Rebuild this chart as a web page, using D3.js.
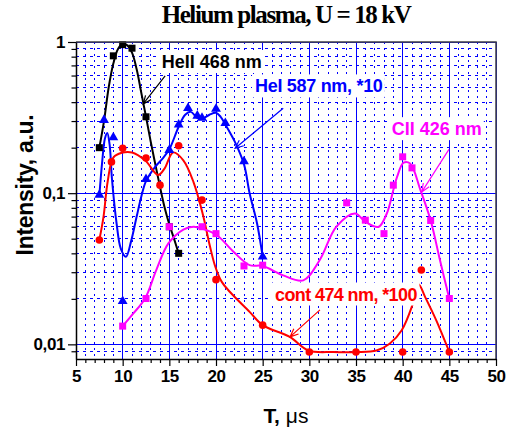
<!DOCTYPE html>
<meta charset="utf-8">
<style>
body { margin: 0; background: #fff; }
svg text { font-family: "Liberation Sans", Arial, sans-serif; font-weight: bold; }
.grid line { shape-rendering: crispEdges; }
.axis text { font-size: 17px; letter-spacing: -0.4px; }
</style>
<body>
<div id="chart"></div>
<script src="https://d3js.org/d3.v7.min.js"></script>
<script>

// HeII 468 nm -- black squares
var heII_t = [7.5, 9, 10, 11, 12.5, 15, 16];
var heII_i = [0.2, 0.81, 0.96, 0.91, 0.32, 0.06, 0.04];
// fitted curve
var heIIfit_t = [7.5, 8, 8.5, 9, 9.5, 10, 10.5, 11, 11.5, 12, 12.5, 13, 13.5, 14, 14.5, 15, 15.5, 16];
var heIIfit_i = [0.2, 0.3, 0.5, 0.72, 0.9, 0.97, 0.95, 0.85, 0.66, 0.46, 0.32, 0.22, 0.155, 0.11, 0.08, 0.062, 0.05, 0.04];

// HeI 587 nm, *10 -- blue triangles
var heI_t = [7.5, 8, 9, 10, 12.5, 15, 16, 17, 18, 18.5, 20, 21, 23, 25];
var heI_i = [0.096, 0.30, 0.23, 0.019, 0.122, 0.19, 0.28, 0.36, 0.32, 0.31, 0.355, 0.286, 0.16, 0.0375];
var heIfit_t = [7.5, 7.8, 8.1, 8.35, 8.6, 8.85, 9.35, 9.8, 10.35, 10.9, 11.5, 12, 12.5, 13.5, 14.3, 15, 16, 16.7, 17.3, 18, 18.5, 19.3, 20, 20.5, 21, 22, 23, 23.6, 24.4, 25];
var heIfit_i = [0.096, 0.16, 0.23, 0.25, 0.21, 0.125, 0.063, 0.043, 0.038, 0.048, 0.07, 0.095, 0.12, 0.15, 0.17, 0.195, 0.275, 0.33, 0.345, 0.315, 0.31, 0.33, 0.34, 0.32, 0.285, 0.22, 0.155, 0.1, 0.063, 0.038];

// cont 474 nm, *100 -- red circles
var cont_t = [7.5, 8.8, 10, 12.5, 14, 16, 18.5, 20, 25, 30, 35, 40, 42, 45];
var cont_i = [0.049, 0.161, 0.198, 0.171, 0.113, 0.206, 0.09, 0.0268, 0.0134, 0.0089, 0.0089, 0.0089, 0.031, 0.0089];
var contfit_t = [7.5, 7.95, 8.4, 9, 9.9, 11, 12.4, 13.8, 14.5, 15.4, 16.5, 17.6, 18.6, 19.3, 19.9, 20.6, 21.5, 23.6, 25, 27.9, 29.9, 32.6, 35, 37.2, 38.6, 39.9, 41.1, 41.7, 42.4, 43.6, 45];
var contfit_i = [0.049, 0.07, 0.12, 0.172, 0.185, 0.186, 0.165, 0.132, 0.146, 0.186, 0.165, 0.118, 0.072, 0.046, 0.033, 0.026, 0.0222, 0.0164, 0.0134, 0.0112, 0.0091, 0.0089, 0.0089, 0.0091, 0.0101, 0.0124, 0.0186, 0.025, 0.0206, 0.0144, 0.0089];

// CII 426 nm -- magenta squares
var cII_t = [10, 12.5, 15, 18.5, 20, 23, 25, 34, 36, 38, 39, 40, 41, 43, 45];
var cII_i = [0.0132, 0.0201, 0.06, 0.06, 0.054, 0.033, 0.0334, 0.0863, 0.0663, 0.054, 0.113, 0.174, 0.147, 0.066, 0.0201];
var cIIfit_t = [10, 11.1, 12.4, 13.6, 14.9, 16.5, 17.6, 18.6, 20.1, 21.9, 23.6, 25, 27.2, 29.35, 31.1, 32.9, 34.9, 36, 37.4, 38.3, 39, 39.4, 40.1, 40.8, 41.9, 43, 44, 45];
var cIIfit_i = [0.0132, 0.0159, 0.0201, 0.031, 0.0465, 0.0575, 0.06, 0.058, 0.0527, 0.0408, 0.0334, 0.033, 0.0286, 0.0265, 0.036, 0.06, 0.0734, 0.0647, 0.0598, 0.0734, 0.105, 0.128, 0.159, 0.157, 0.105, 0.066, 0.036, 0.02];

var xMajor = [5, 10, 15, 20, 25, 30, 35, 40, 45, 50];
var yMajor = [0.01, 0.1, 1];
var yMinor = [0.009, 0.02, 0.03, 0.04, 0.05, 0.06, 0.07, 0.08, 0.09, 0.2, 0.3, 0.4, 0.5, 0.6, 0.7, 0.8, 0.9];

var margin = {top: 42, right: 13, bottom: 74, left: 76},
    width = 509 - margin.left - margin.right,
    height = 433 - margin.top - margin.bottom;

var x = d3.scaleLinear().domain([5, 50]).range([0, width]);
var y = d3.scaleLog().domain([0.008, 1]).range([height, 0]);
var xMinor = d3.range(5, 51, 1).filter(function(d) { return d % 5 != 0; });

var svg = d3.select("#chart").append("svg")
    .attr("width", 509)
    .attr("height", 433);

svg.append("text")
    .attr("x", margin.left + width / 2)
    .attr("y", 23)
    .attr("text-anchor", "middle")
    .style("font-family", "'Liberation Serif', 'Times New Roman', serif")
    .style("font-size", "25px")
    .style("letter-spacing", "-1.4px")
    .text("Helium plasma, U = 18 kV");

var g = svg.append("g")
    .attr("transform", "translate(" + margin.left + "," + margin.top + ")");

// grid
var grid = g.append("g").attr("class", "grid");
grid.selectAll(".vmin").data(xMinor).enter().append("line")
    .attr("x1", x).attr("x2", x).attr("y1", 0).attr("y2", height)
    .attr("stroke", "#0000ff").attr("stroke-width", 1).attr("stroke-dasharray", "2,4");
grid.selectAll(".hmin").data(yMinor).enter().append("line")
    .attr("y1", y).attr("y2", y).attr("x1", 0).attr("x2", width)
    .attr("stroke", "#0000ff").attr("stroke-width", 1).attr("stroke-dasharray", "3,4");
grid.selectAll(".vmaj").data(xMajor).enter().append("line")
    .attr("x1", x).attr("x2", x).attr("y1", 0).attr("y2", height)
    .attr("stroke", "#0000ff").attr("stroke-width", 1);
grid.selectAll(".hmaj").data(yMajor).enter().append("line")
    .attr("y1", y).attr("y2", y).attr("x1", 0).attr("x2", width)
    .attr("stroke", "#0000ff").attr("stroke-width", 1);

// fitted curves
var line = d3.line()
    .x(function(d) { return x(d[0]); })
    .y(function(d) { return y(d[1]); })
    .curve(d3.curveCatmullRom.alpha(0.5));

function zip(a, b) { return a.map(function(v, i) { return [v, b[i]]; }); }

var curves = [
  {t: heIIfit_t, i: heIIfit_i, color: "#000000"},
  {t: heIfit_t, i: heIfit_i, color: "#0000ff"},
  {t: contfit_t, i: contfit_i, color: "#ff0000"},
  {t: cIIfit_t, i: cIIfit_i, color: "#ff00ff"}
];
curves.forEach(function(c) {
  g.append("path")
    .datum(zip(c.t, c.i))
    .attr("d", line)
    .attr("fill", "none")
    .attr("stroke", c.color)
    .attr("stroke-width", 2);
});

// labels with white boxes and arrows
var labels = [
  {text: "HeII 468 nm", color: "#000000", t: 14.18, v: 0.673, from: [14.55, 0.596], to: [12.2, 0.389], ls: 0},
  {text: "HeI 587 nm, *10", color: "#0000ff", t: 24.18, v: 0.464, from: [27.2, 0.365], to: [22.05, 0.198], ls: -0.3},
  {text: "CII 426 nm", color: "#ff00ff", t: 38.83, v: 0.242, from: [44.96, 0.195], to: [42.05, 0.102], ls: 0},
  {text: "cont 474 nm, *100", color: "#ff0000", t: 26.32, v: 0.0195, from: [31.14, 0.0169], to: [27.93, 0.0112], ls: -0.6}
];
labels.forEach(function(l) {
  var lg = g.append("g");
  var txt = lg.append("text")
    .attr("x", x(l.t)).attr("y", y(l.v))
    .attr("fill", l.color)
    .style("font-size", "18px")
    .style("letter-spacing", l.ls + "px")
    .text(l.text);
  var b = txt.node().getBBox();
  lg.insert("rect", "text")
    .attr("x", b.x - 3).attr("y", b.y - 2)
    .attr("width", b.width + 5).attr("height", b.height + 3)
    .attr("fill", "#fff");
  var x0 = x(l.from[0]), y0 = y(l.from[1]), x1 = x(l.to[0]), y1 = y(l.to[1]);
  var a = Math.atan2(y1 - y0, x1 - x0), len = 9, sp = 0.4;
  lg.append("path")
    .attr("d", "M" + x0 + "," + y0 + "L" + x1 + "," + y1 +
      "M" + (x1 - len * Math.cos(a - sp)) + "," + (y1 - len * Math.sin(a - sp)) +
      "L" + x1 + "," + y1 +
      "L" + (x1 - len * Math.cos(a + sp)) + "," + (y1 - len * Math.sin(a + sp)))
    .attr("fill", "none")
    .attr("stroke", l.color)
    .attr("stroke-width", 1.2);
});

// markers
function squares(t, v, color) {
  g.selectAll(null).data(zip(t, v)).enter().append("rect")
    .attr("x", function(d) { return x(d[0]) - 3.5; })
    .attr("y", function(d) { return y(d[1]) - 3.5; })
    .attr("width", 7).attr("height", 7)
    .attr("fill", color);
}
squares(heII_t, heII_i, "#000000");
squares(cII_t, cII_i, "#ff00ff");

g.selectAll(null).data(zip(cont_t, cont_i)).enter().append("circle")
  .attr("cx", function(d) { return x(d[0]); })
  .attr("cy", function(d) { return y(d[1]); })
  .attr("r", 3.8)
  .attr("fill", "#ff0000");

g.selectAll(null).data(zip(heI_t, heI_i)).enter().append("path")
  .attr("d", d3.symbol(d3.symbolTriangle, 42))
  .attr("transform", function(d) { return "translate(" + x(d[0]) + "," + (y(d[1]) - 1) + ")"; })
  .attr("fill", "#0000ff");

// frame (top / right)
g.append("path")
  .attr("d", "M0,0H" + width + "V" + height)
  .attr("fill", "none")
  .attr("stroke", "#404040")
  .attr("stroke-width", 1.5);

// axes
g.append("g").attr("class", "axis")
    .attr("transform", "translate(0," + height + ")")
    .call(d3.axisBottom(x).tickValues(xMajor).tickSize(7).tickSizeOuter(0).tickPadding(4).tickFormat(d3.format("d")));
g.append("g").attr("class", "axis")
    .attr("transform", "translate(0," + height + ")")
    .call(d3.axisBottom(x).tickValues(xMinor).tickSize(4).tickSizeOuter(0).tickFormat(""))
    .select(".domain").remove();

g.append("g").attr("class", "axis")
    .call(d3.axisLeft(y).tickValues(yMajor).tickSize(8).tickSizeOuter(0).tickPadding(3)
      .tickFormat(function(d) { return String(d).replace(".", ","); }));
g.append("g").attr("class", "axis")
    .call(d3.axisLeft(y).tickValues(yMinor).tickSize(4.5).tickSizeOuter(0).tickFormat(""))
    .select(".domain").remove();

g.selectAll(".axis .domain").attr("stroke", "#000").attr("stroke-width", 1.5);
g.selectAll(".axis line").attr("stroke", "#000").attr("stroke-width", 1.2);
g.selectAll(".axis text").attr("fill", "#000");

// axis titles
svg.append("text")
    .attr("transform", "translate(33,185) rotate(-90)")
    .attr("text-anchor", "middle")
    .style("font-size", "23px")
    .style("letter-spacing", "-0.3px")
    .text("Intensity, a.u.");

var xt = svg.append("text")
    .attr("x", margin.left + width / 2)
    .attr("y", 423)
    .attr("text-anchor", "middle")
    .style("font-size", "21px");
xt.append("tspan").text("T, ");
xt.append("tspan").style("font-weight", "normal").text("\u03bcs");

</script>
